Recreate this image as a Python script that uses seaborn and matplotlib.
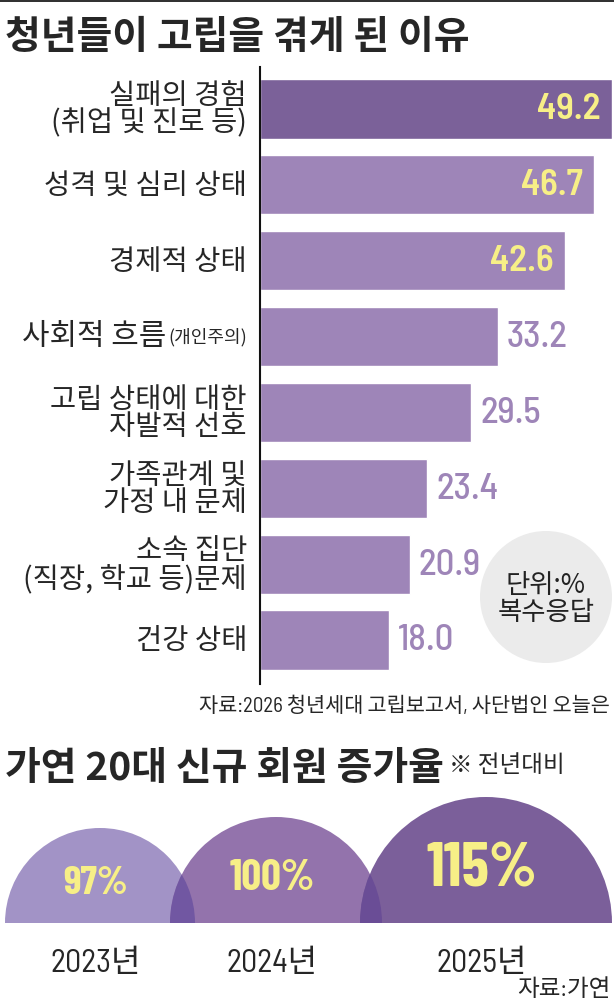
import matplotlib.pyplot as plt
import matplotlib.patches as mpatches
import seaborn as sns
import pandas as pd

# --- data ---
reasons = ['실패의 경험\n(취업 및 진로 등)', '성격 및 심리 상태', '경제적 상태', '사회적 흐름(개인주의)',
           '고립 상태에 대한\n자발적 선호', '가족관계 및\n가정 내 문제', '소속 집단\n(직장, 학교 등)문제', '건강 상태']
shares = [49.2, 46.7, 42.6, 33.2, 29.5, 23.4, 20.9, 18.0]

years = ['2023년', '2024년', '2025년']
growth = [97, 100, 115]

# --- style / layout ---
W, H = 614, 1003
bar_dark, bar_light = '#7b6199', '#9e85b8'
yellow = '#f7ef87'
dome_colors = ['#a293c6', '#9373ac', '#7b5f9a']
overlap_colors = ['#7157a2', '#6a4d96']
dome_r = [95, 106, 126]
dome_sizes = [29, 31.5, 45]

sns.set_theme(style='white')
plt.rcParams['font.family'] = ['Noto Sans CJK KR', 'DejaVu Sans']
NARROW = ['Barlow Condensed', 'Noto Sans CJK KR', 'DejaVu Sans']
SEMI = ['Barlow Semi Condensed', 'Noto Sans CJK KR', 'DejaVu Sans']

fig = plt.figure(figsize=(W / 100, H / 100), dpi=100)

# overlay in pixel coordinates for titles, notes and domes
ov = fig.add_axes([0, 0, 1, 1])
ov.set_xlim(0, W)
ov.set_ylim(H, 0)
ov.axis('off')

ov.add_patch(mpatches.Rectangle((0, 0), W, 3, color='#333333', lw=0))
ov.text(5, 37, '청년들이 고립을 겪게 된 이유', fontsize=28, fontweight='bold', va='center')

# bar chart
ax = fig.add_axes([260 / W, 1 - 685 / H, 352 / W, 617 / H])
df = pd.DataFrame({'reason': reasons, 'share': shares})
sns.barplot(data=df, y='reason', x='share', hue='reason',
            palette=[bar_dark] + [bar_light] * (len(reasons) - 1),
            legend=False, width=0.78, saturation=1, ax=ax)
ax.set_xlim(0, 49.2)
ax.set_ylim(7.58, -0.553)
ax.set_xticks([])
ax.set_yticks([])
ax.set_xlabel('')
ax.set_ylabel('')
sns.despine(ax=ax, left=False, bottom=True)
ax.spines['left'].set_color('#111111')
ax.spines['left'].set_linewidth(1.5)
ax.patch.set_alpha(0)

ytr = ax.get_yaxis_transform()
for i, (lab, v) in enumerate(zip(reasons, shares)):
    if '\n' not in lab and '(' in lab:
        head, tail = lab.split('(', 1)
        t = ax.annotate('(' + tail, xy=(0, i), xycoords=ytr, xytext=(-13, 0),
                        textcoords='offset pixels', ha='right', va='center',
                        fontsize=13, annotation_clip=False)
        ax.annotate(head.strip(), xy=(0, 0.5), xycoords=t, xytext=(-2, 1),
                    textcoords='offset pixels', ha='right', va='center',
                    fontsize=21.5, annotation_clip=False)
    else:
        ax.annotate(lab, xy=(0, i), xycoords=ytr, xytext=(-13, 0),
                    textcoords='offset pixels', ha='right', va='center',
                    fontsize=20.5, linespacing=0.9, multialignment='right',
                    annotation_clip=False)
    if v >= 40:
        ax.annotate(f'{v:.1f}', xy=(v, i), xytext=(-11, 0), textcoords='offset pixels',
                    ha='right', va='center', fontsize=26.5, fontweight='semibold',
                    color=yellow, family=SEMI, annotation_clip=False)
    else:
        ax.annotate(f'{v:.1f}', xy=(v, i), xytext=(9, 0), textcoords='offset pixels',
                    ha='left', va='center', fontsize=26.5, fontweight='medium',
                    color=bar_light, family=SEMI, annotation_clip=False)

# unit badge
ov.add_patch(mpatches.Circle((546, 598), 66, color='#ebebeb', lw=0))
ov.text(546, 599, '단위:%\n복수응답', ha='center', va='center', fontsize=19,
        linespacing=1.0, color='#222222')

ov.text(610, 706, '자료:2026 청년세대 고립보고서, 사단법인 오늘은', ha='right', va='center',
        fontsize=15, family=SEMI)

# second section
ov.text(5, 769, '가연 20대 신규 회원 증가율', fontsize=28, fontweight='bold', va='center')
ov.text(449, 765, '※ 전년대비', fontsize=17, va='center')

base = 924
centers = []
x = 5 + dome_r[0]
for k, r in enumerate(dome_r):
    if k > 0:
        x = centers[-1] + dome_r[k - 1] + r - (25 if k == 1 else 22)
    centers.append(x)

domes = []
for k, (c, r) in enumerate(zip(centers, dome_r)):
    w = mpatches.Wedge((c, base), r, 180, 360, color=dome_colors[k], lw=0)
    ov.add_patch(w)
    domes.append(w)
for k in range(1, len(domes)):
    c, r = centers[k], dome_r[k]
    lens = mpatches.Wedge((c, base), r, 180, 360, color=overlap_colors[k - 1], lw=0)
    ov.add_patch(lens)
    lens.set_clip_path(domes[k - 1])

for c, r, g, yr, s in zip(centers, dome_r, growth, years, dome_sizes):
    ov.text(c - 4, base - 0.43 * r, f'{g}%', ha='center', va='center', fontsize=s,
            fontweight='bold', color=yellow, family=NARROW)
    ov.text(c - 4, 964, yr, ha='center', va='center', fontsize=23, family=SEMI)

ov.text(611, 990, '자료:가연', ha='right', va='center', fontsize=17, family=SEMI)

fig.savefig('out.png', dpi=100)
